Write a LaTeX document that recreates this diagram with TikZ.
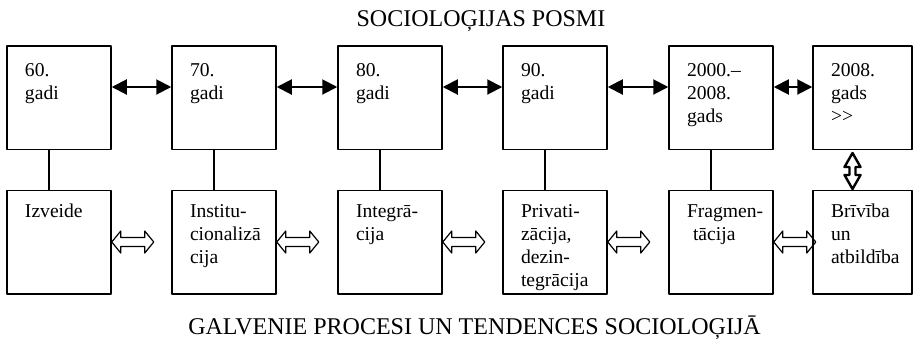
\documentclass[tikz,border=0pt]{standalone}
\usepackage{fontspec}
\setmainfont{Liberation Serif}
\usetikzlibrary{arrows.meta}
\hfuzz=30pt \hbadness=10000 \vfuzz=30pt \vbadness=10000
% text block in a stage box: height, width, lines
\newcommand\boxtext[3]{\parbox[c][#1][t]{\dimexpr#2-18pt\relax}{\raggedright\strut#3}}
\begin{document}
\begin{tikzpicture}[x=0.5pt,y=-0.5pt, line join=round,
	stage/.style={draw, line width=0.75pt, minimum height=51.75pt, inner sep=0pt, font=\fontsize{9.8}{11.5}\selectfont},
	bigarrow/.style={line width=1pt, {Triangle[length=7.5pt,width=7.5pt]}-{Triangle[length=7.5pt,width=7.5pt]}},
	link/.style={line width=0.65pt},
	heading/.style={anchor=base, font=\fontsize{12}{14}\selectfont},
	hollowh/.pic={\draw[line width=0.6pt] (0,0) -- (4.5pt,5.5pt) -- (4.5pt,2.25pt) -- (16.5pt,2.25pt) -- (16.5pt,5.5pt) -- (21pt,0) -- (16.5pt,-5.5pt) -- (16.5pt,-2.25pt) -- (4.5pt,-2.25pt) -- (4.5pt,-5.5pt) -- cycle;},
	hollowv/.pic={\draw[line width=1.2pt] (0,0) -- (4pt,-7pt) -- (1.5pt,-7pt) -- (1.5pt,-11pt) -- (4pt,-11pt) -- (0,-18pt) -- (-4pt,-11pt) -- (-1.5pt,-11pt) -- (-1.5pt,-7pt) -- (-4pt,-7pt) -- cycle;}]
	\useasboundingbox (0,0) rectangle (913,339);
	\node[heading] (posmi) at (481,26) {SOCIOLOĢIJAS POSMI};
	\node[heading] (procesi) at (474.5,334) {GALVENIE PROCESI UN TENDENCES SOCIOLOĢIJĀ};
	% stages (top) and processes (bottom)
	\foreach \i/\x/\w/\t/\b in {1/59/52/{60.\\gadi}/{Izveide},
		2/224/52/{70.\\gadi}/{Institu-\\cionalizā\\cija},
		3/390/52/{80.\\gadi}/{Integrā-\\cija},
		4/555/52/{90.\\gadi}/{Privati-\\zācija,\\dezin-\\tegrācija},
		5/721/52/{2000.--\\2008.\\gads}/{\mbox{Fragmen-}\\\hspace*{3pt}tācija},
		6/862.5/49.5/{2008.\\gads\\{>}{>}}/{Brīvība\\un\\atbildība}}
	{
	\node[stage, minimum width=\w pt] (t\i) at (\x,97.5) {\boxtext{36.85pt}{\w pt}{\t}};
	\node[stage, minimum width=\w pt] (b\i) at (\x,242) {\boxtext{40.85pt}{\w pt}{\b}};
	}
	\foreach \i in {1,...,5}
	\draw[link] ([xshift=-5pt]t\i.south) -- ([xshift=-5pt]b\i.north);
	\foreach \i/\j in {1/2,2/3,3/4,4/5,5/6}
	\draw[bigarrow] ([yshift=5.25pt]t\i.east) -- ([yshift=5.25pt]t\j.west);
	\foreach \i in {1,...,5}
	\pic at (b\i.east) {hollowh};
	\pic at ([xshift=-5pt,yshift=-1.5pt]t6.south) {hollowv};
\end{tikzpicture}
\end{document}
